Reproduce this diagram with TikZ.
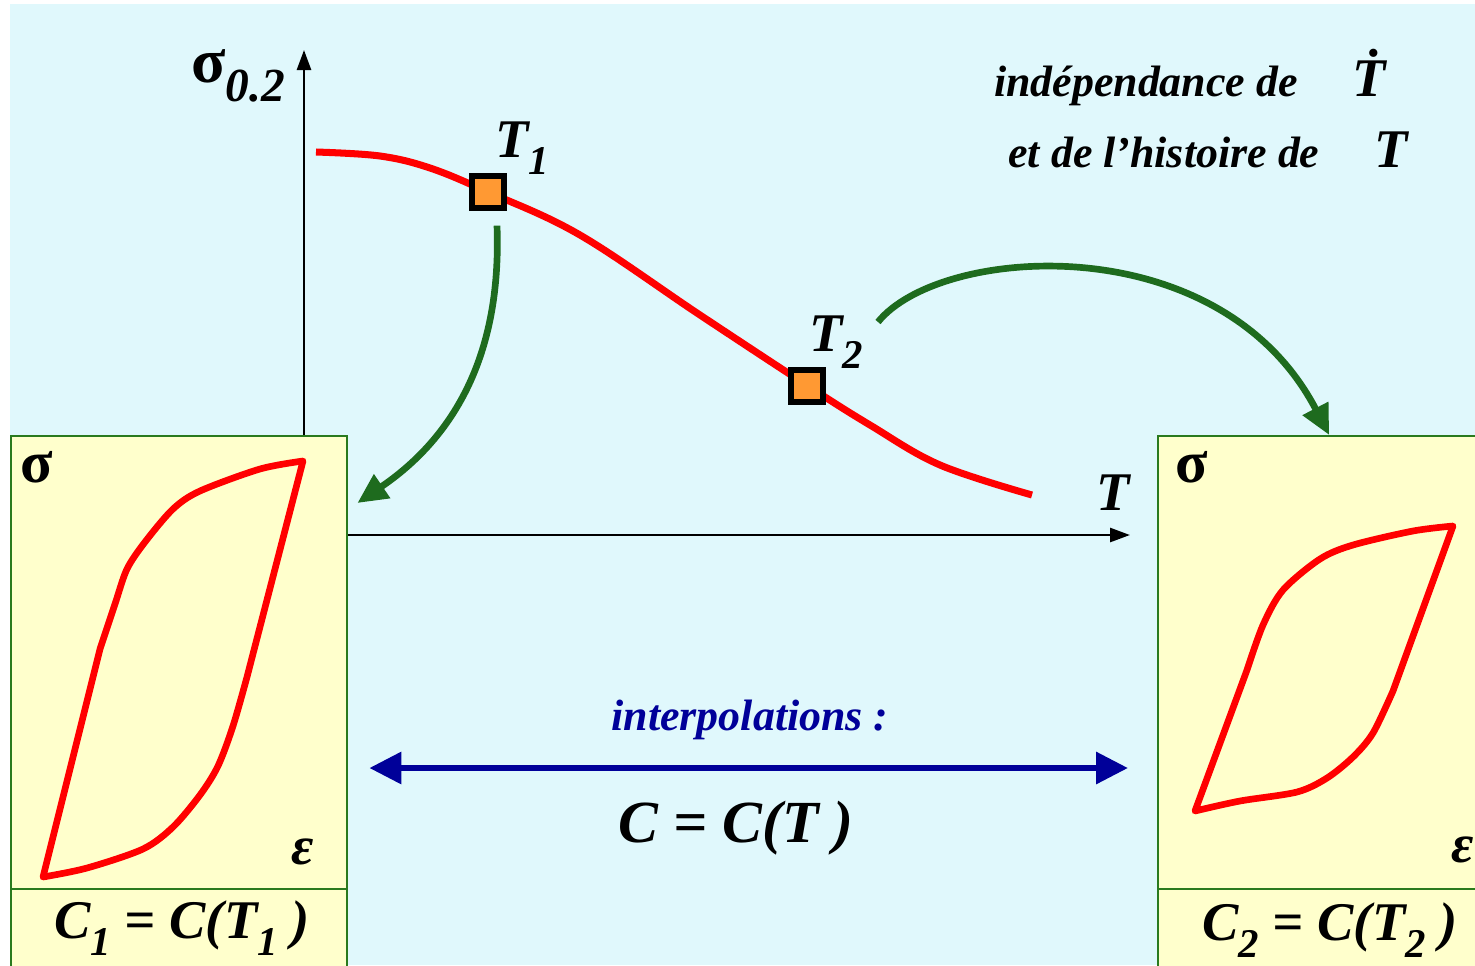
\documentclass[tikz,border=0pt]{standalone}
\usepackage{fontspec}
\setmainfont{Liberation Serif}
\usetikzlibrary{positioning,arrows.meta,calc}

\definecolor{skyback}{HTML}{E0F8FC}
\definecolor{panelfill}{HTML}{FFFFCC}
\definecolor{panelgreen}{HTML}{2A7A1E}
\definecolor{arcgreen}{HTML}{1E6B1E}
\definecolor{curvered}{HTML}{FF0000}
\definecolor{markorange}{HTML}{FF9933}
\definecolor{interpblue}{HTML}{000099}

\newcommand{\lowidx}[1]{\raisebox{-0.3em}{\fontsize{0.75em}{0.75em}\selectfont #1}}

\begin{document}
\begin{tikzpicture}[
    x=0.02cm, y=-0.02cm,
    >=Stealth,
    every node/.style={align=center, inner sep=0pt},
    panel/.style={draw=panelgreen, fill=panelfill, line width=1.4pt, anchor=north west},
    marker/.style={draw=black, fill=markorange, line width=3pt, minimum size=0.64cm},
    axis/.style={line width=1.5pt, -{Triangle[length=0.4cm, width=0.28cm]}},
    arc/.style={draw=arcgreen, line width=3.8pt, -{Triangle[length=0.6cm, width=0.55cm]}},
    loopline/.style={curvered, line width=3.8pt, line join=round},
    biglabel/.style={font=\normalfont\fontsize{31}{36}\selectfont\bfseries\itshape},
    notelabel/.style={font=\normalfont\fontsize{25}{30}\selectfont\bfseries\itshape}
]

% Background
\useasboundingbox (0,0) rectangle (1475,965);
\fill[white] (0,0) rectangle (1475,965);
\fill[skyback] (10,4) rectangle (1475,965);

% Panels
\node[panel, minimum width=6.72cm, minimum height=10.8cm] (panelA) at (10,435) {};
\node[panel, minimum width=6.84cm, minimum height=10.8cm] (panelB) at (1157,435) {};
\draw[panelgreen, line width=1.4pt] ($(panelA.north west)+(0,454)$) -- ($(panelA.north east)+(0,454)$);
\draw[panelgreen, line width=1.4pt] ($(panelB.north west)+(0,454)$) -- ($(panelB.north east)+(0,454)$);

% Axes
\coordinate (ytop) at (304,50);
\coordinate (xend) at (1130,535);
\draw[axis] (panelA.north -| ytop) -- (ytop);
\draw[axis] (panelA.east |- xend) -- (xend);
\node[biglabel, font=\normalfont\fontsize{36}{40}\selectfont\bfseries\itshape] (sigmaaxis) at (238,76) {{\upshape σ}\lowidx{0.2}};
\node[biglabel] (taxis) at (1113,493) {T};

% Yield curve
\draw[curvered, line width=4pt] plot[smooth, tension=0.6] coordinates {
    (316,152) (380,156) (430,168) (488,192) (580,235) (700,315)
    (808,386) (870,425) (940,465) (1032,495)};
\node[marker] (sqA) at (488,192) {};
\node[marker] (sqB) at (807,386) {};
\node[biglabel] (tA) at (522,148) {T\lowidx{1}};
\node[biglabel] (tB) at (836,342) {T\lowidx{2}};

% Note
\node[notelabel] (noteA) at (1190,78) {indépendance de \quad{\fontsize{31}{36}\selectfont\.{T}}};
\node[notelabel] (noteB) at (1208,150) {et de l’histoire de \quad{\fontsize{31}{36}\selectfont T}};

% Green arcs
\draw[arc] ($(sqA.south)+(9,15)$) .. controls (502,360) and (450,440) .. ($(panelA.north east)+(9,68)$);
\draw[arc] ($(sqB)+(71,-64)$) .. controls (940,245) and (1220,225) .. (panelB.north);

% Hysteresis loops
\draw[loopline] plot[smooth, tension=0.5] coordinates {
    (303,461) (260,469) (200,491) (173,509) (145,542) (127,569) (115,604) (100,649)}
    -- plot[smooth, tension=0.5] coordinates {
    (43,877) (87,868) (143,849) (173,827) (200,795) (218,766) (233,726) (247,677)}
    -- cycle;
\draw[loopline] plot[smooth, tension=0.5] coordinates {
    (1453,526) (1413,531) (1353,545) (1320,559) (1283,590) (1263,625) (1247,670)}
    -- plot[smooth, tension=0.5] coordinates {
    (1195,811) (1240,801) (1297,792) (1327,778) (1353,757) (1373,733) (1393,691)}
    -- cycle;
\node[biglabel, font=\normalfont\fontsize{34}{38}\selectfont\bfseries] (sigmaA) at (37,467) {σ};
\node[biglabel, font=\normalfont\fontsize{34}{38}\selectfont\bfseries] (sigmaB) at (1192,467) {σ};
\node[biglabel] (epsA) at (303,852) {ε};
\node[biglabel] (epsB) at (1463,850) {ε};
\node[biglabel] (lawA) at (182,928) {C\lowidx{1} = C(T\lowidx{1} )};
\node[biglabel] (lawB) at (1330,930) {C\lowidx{2} = C(T\lowidx{2} )};

% Interpolation
\node[notelabel, text=interpblue] (interp) at (750,720) {interpolations :};
\draw[interpblue, line width=3.6pt, {Triangle[length=0.64cm, width=0.62cm]}-{Triangle[length=0.64cm, width=0.62cm]}]
    ($(panelA.north east)+(21,333)$) -- ($(panelB.north west)+(-29,333)$);
\node[biglabel, font=\normalfont\fontsize{34}{40}\selectfont\bfseries\itshape] (law) at (736,828) {C = C(T )};

\end{tikzpicture}
\end{document}
